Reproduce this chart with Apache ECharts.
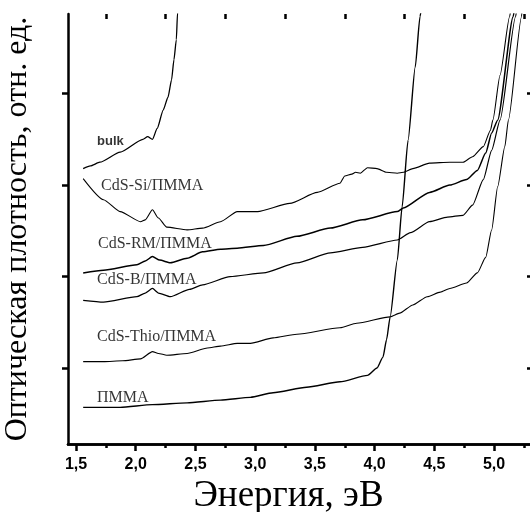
<!DOCTYPE html>
<html lang="ru" style="height: 100%">
<head>
  <meta charset="utf-8">
</head>
<body style="height: 100%; margin: 0; background: #fff">
  <div id="container" style="width: 530px; height: 512px"></div>

  <script type="text/javascript" src="https://fastly.jsdelivr.net/npm/echarts@6/dist/echarts.min.js"></script>

  <script type="text/javascript">
    // энергия, эВ -> оптическая плотность (отн. ед.)
    const bulk = [
      [1.56, 3.01], [1.62, 3.04], [1.70, 3.08], [1.87, 3.19], [2.06, 3.33], [2.10, 3.36],
      [2.14, 3.33], [2.18, 3.45], [2.23, 3.65], [2.27, 3.79], [2.30, 3.98], [2.32, 4.20],
      [2.34, 4.42], [2.35, 4.71], [2.36, 4.90]
    ];
    const cdsSi = [
      [1.56, 2.90], [1.73, 2.67], [1.87, 2.54], [2.04, 2.43], [2.08, 2.45], [2.14, 2.56],
      [2.19, 2.47], [2.26, 2.37], [2.43, 2.34], [2.56, 2.36], [2.71, 2.43], [2.85, 2.54],
      [3.02, 2.54], [3.29, 2.63], [3.52, 2.75], [3.71, 2.85], [3.75, 2.93], [3.81, 2.95],
      [3.84, 2.97], [3.88, 2.96], [3.94, 3.02], [4.02, 3.01], [4.10, 2.97], [4.19, 2.96],
      [4.24, 2.97], [4.32, 3.01], [4.46, 3.07], [4.63, 3.08], [4.74, 3.08], [4.82, 3.14],
      [4.91, 3.25], [4.97, 3.43], [4.99, 3.54], [5.05, 4.03], [5.13, 4.67], [5.15, 4.85]
    ];
    const cdsRM = [
      [1.56, 1.87], [1.73, 1.90], [2.01, 1.96], [2.08, 2.00], [2.14, 2.05], [2.20, 2.01],
      [2.29, 1.98], [2.43, 2.03], [2.56, 2.10], [2.71, 2.13], [2.85, 2.14], [3.07, 2.17],
      [3.35, 2.27], [3.63, 2.36], [3.90, 2.45], [4.19, 2.54], [4.24, 2.58], [4.46, 2.75],
      [4.63, 2.83], [4.77, 2.89], [4.86, 2.99], [4.93, 3.18], [4.98, 3.40], [5.03, 3.54],
      [5.16, 4.67], [5.18, 4.85]
    ];
    const cdsB = [
      [1.56, 1.57], [1.73, 1.55], [2.01, 1.61], [2.08, 1.65], [2.14, 1.70], [2.19, 1.65],
      [2.29, 1.61], [2.45, 1.69], [2.56, 1.74], [2.79, 1.83], [3.07, 1.87], [3.35, 1.98],
      [3.63, 2.09], [3.90, 2.15], [4.19, 2.23], [4.30, 2.31], [4.46, 2.43], [4.61, 2.48],
      [4.74, 2.50], [4.82, 2.61], [4.91, 2.89], [4.98, 3.21], [5.05, 3.54], [5.18, 4.67],
      [5.20, 4.85]
    ];
    const cdsThio = [
      [1.56, 0.90], [1.73, 0.90], [1.89, 0.91], [2.04, 0.93], [2.14, 1.01], [2.19, 0.99],
      [2.26, 0.97], [2.43, 0.99], [2.60, 1.05], [2.71, 1.07], [2.85, 1.10], [2.96, 1.10],
      [3.15, 1.16], [3.35, 1.20], [3.71, 1.27], [3.85, 1.32], [4.13, 1.39], [4.21, 1.43],
      [4.32, 1.52], [4.44, 1.61], [4.55, 1.66], [4.63, 1.70], [4.77, 1.76], [4.86, 1.87],
      [4.93, 2.04], [4.98, 2.34], [5.03, 2.81], [5.09, 3.25], [5.12, 3.54], [5.23, 4.67],
      [5.24, 4.85]
    ];
    const pmma = [
      [1.56, 0.40], [1.87, 0.40], [2.14, 0.43], [2.43, 0.45], [2.71, 0.48], [2.96, 0.51],
      [3.15, 0.56], [3.43, 0.62], [3.71, 0.68], [3.94, 0.75], [4.02, 0.83], [4.07, 0.95],
      [4.10, 1.14], [4.13, 1.39], [4.19, 2.01], [4.23, 2.59], [4.28, 3.32], [4.34, 4.12],
      [4.38, 4.67], [4.40, 4.85]
    ];

    // подписи кривых: [текст, x, y] (левый край, середина по высоте)
    const curveLabels = [
      ['bulk', 1.676, 3.31],
      ['CdS-Si/ПММА', 1.71, 2.82],
      ['CdS-RM/ПММА', 1.684, 2.19],
      ['CdS-B/ПММА', 1.676, 1.80],
      ['CdS-Thio/ПММА', 1.676, 1.17],
      ['ПММА', 1.676, 0.51]
    ];

    const xMajor = [1.5, 2.0, 2.5, 3.0, 3.5, 4.0, 4.5, 5.0];
    const xMinor = [1.75, 2.25, 2.75, 3.25, 3.75, 4.25, 4.75, 5.25];
    const xLabels = ['1,5', '2,0', '2,5', '3,0', '3,5', '4,0', '4,5', '5,0'];
    const yTicks = [0.83, 1.83, 2.83, 3.83];

    const xMin = 1.433, xMax = 5.326, yMin = 0, yMax = 4.70;

    var dom = document.getElementById('container');
    var myChart = echarts.init(dom, null, { renderer: 'canvas' });

    const axisLine = { show: true, lineStyle: { color: '#000', width: 2.5 } };
    const gridBox = { left: 68, top: 14, right: -3, bottom: 68, outerBoundsMode: 'none', containLabel: false };

    function xAx(gridIndex, position, ticks, len, inside, withLabels) {
      return {
        type: 'value', gridIndex: gridIndex, position: position,
        min: xMin, max: xMax,
        axisLine: gridIndex === 0 ? axisLine : { show: false },
        axisTick: {
          show: true, inside: inside, length: len, customValues: ticks,
          lineStyle: { color: '#000', width: 2.5 }
        },
        axisLabel: withLabels ? {
          show: true, customValues: xMajor, margin: 13,
          color: '#000', fontFamily: 'Liberation Sans', fontWeight: 'bold', fontSize: 16,
          formatter: function (v) {
            const i = xMajor.findIndex(t => Math.abs(t - v) < 1e-6);
            return i >= 0 ? xLabels[i] : '';
          }
        } : { show: false },
        splitLine: { show: false },
        name: withLabels ? 'Энергия, эВ' : '',
        nameLocation: 'middle', nameGap: 32,
        nameTextStyle: {
          color: '#000', fontFamily: 'Liberation Serif', fontSize: 37,
          padding: [0, 24, 0, 0]
        }
      };
    }

    var option = {
      animation: false,
      backgroundColor: '#fff',
      grid: [gridBox, gridBox],
      xAxis: [
        xAx(0, 'bottom', xMajor, 7, false, true),
        xAx(0, 'top', xMajor, 7, true, false),
        xAx(1, 'bottom', xMinor, 4, false, false),
        xAx(1, 'top', xMinor, 5, true, false)
      ],
      yAxis: [
        {
          type: 'value', gridIndex: 0, position: 'left', min: yMin, max: yMax,
          axisLine: axisLine,
          axisTick: { show: true, length: 6, customValues: yTicks, lineStyle: { color: '#000', width: 2.5 } },
          axisLabel: { show: false }, splitLine: { show: false },
          name: 'Оптическая плотность, отн. ед.',
          nameLocation: 'middle', nameRotate: 90, nameGap: 34,
          nameTextStyle: { color: '#000', fontFamily: 'Liberation Serif', fontSize: 32 }
        },
        {
          type: 'value', gridIndex: 0, position: 'right', min: yMin, max: yMax,
          axisLine: axisLine,
          axisTick: { show: true, inside: true, length: 6, customValues: yTicks, lineStyle: { color: '#000', width: 2.5 } },
          axisLabel: { show: false }, splitLine: { show: false }
        },
        {
          type: 'value', gridIndex: 1, min: yMin, max: yMax, show: false
        }
      ],
      series: [
        ['bulk', bulk, 1.3], ['CdS-Si/ПММА', cdsSi, 1.1], ['CdS-RM/ПММА', cdsRM, 1.5],
        ['CdS-B/ПММА', cdsB, 1.2], ['CdS-Thio/ПММА', cdsThio, 1.1], ['ПММА', pmma, 1.4]
      ].map(function (s) {
        return {
          name: s[0], type: 'line', xAxisIndex: 0, yAxisIndex: 0,
          data: s[1], showSymbol: false, smooth: 0.2, smoothMonotone: 'x', clip: true,
          lineStyle: { color: '#000', width: s[2] }
        };
      }).concat([{
        type: 'scatter', xAxisIndex: 0, yAxisIndex: 0, symbolSize: 0, silent: true,
        data: curveLabels.map(l => ({ name: l[0], value: [l[1], l[2]] })),
        label: {
          show: true, position: 'right', distance: 0, color: '#000',
          formatter: '{b}',
          fontFamily: 'Liberation Serif', fontSize: 16
        }
      }])
    };

    // "bulk" набрано жирным рубленым шрифтом
    option.series[6].data[0].label = { fontFamily: 'Liberation Sans', fontWeight: 'bold', fontSize: 13 };

    myChart.setOption(option);
    window.addEventListener('resize', myChart.resize);
  </script>
</body>
</html>
